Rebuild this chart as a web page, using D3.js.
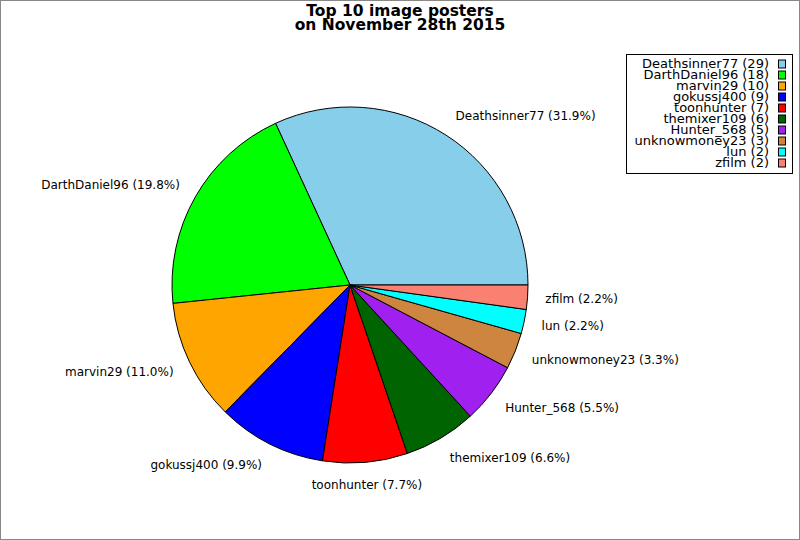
<!DOCTYPE html>
<html>
<head>
<meta charset="utf-8">
<script src="https://cdn.jsdelivr.net/npm/d3@7"></script>
<style>
  body { margin: 0; background: #fff; }
  svg text { font-family: "DejaVu Sans", sans-serif; fill: #000; }
</style>
</head>
<body>
<svg id="chart"></svg>
<script>
  // data
  var posters = ['Deathsinner77', 'DarthDaniel96', 'marvin29', 'gokussj400', 'toonhunter',
                 'themixer109', 'Hunter_568', 'unknowmoney23', 'lun', 'zfilm'];
  var counts = [29, 18, 10, 9, 7, 6, 5, 3, 2, 2];
  var colors = ['#87ceeb', '#00ff00', '#ffa500', '#0000ff', '#ff0000',
                '#006400', '#a020f0', '#cd853f', '#00ffff', '#fa8072'];
  var titleLines = ['Top 10 image posters', 'on November 28th 2015'];

  var width = 800;
  var height = 540;
  var cx = 350, cy = 285, r = 178;

  var total = d3.sum(counts);
  var data = posters.map(function (name, i) {
    return { name: name, count: counts[i], color: colors[i] };
  });

  var svg = d3.select('#chart')
    .attr('width', width)
    .attr('height', height);

  // frame round the whole figure
  svg.append('rect')
    .attr('x', 0.5).attr('y', 0.5)
    .attr('width', width - 1).attr('height', height - 1)
    .attr('fill', '#fff')
    .attr('stroke', '#888');

  // title
  svg.append('text')
    .attr('text-anchor', 'middle')
    .style('font-weight', 'bold')
    .style('font-size', '15.5px')
    .selectAll('tspan').data(titleLines)
    .enter().append('tspan')
      .attr('x', 400)
      .attr('y', function (d, i) { return 16 + i * 13.5; })
      .text(function (d) { return d; });

  // pie, counter-clockwise from 3 o'clock
  var pie = d3.pie()
    .sort(null)
    .value(function (d) { return d.count; })
    .startAngle(Math.PI / 2)
    .endAngle(Math.PI / 2 - 2 * Math.PI);

  var arc = d3.arc().innerRadius(0).outerRadius(r);
  var arcs = pie(data);

  var g = svg.append('g').attr('transform', 'translate(' + cx + ',' + cy + ')');

  g.selectAll('path').data(arcs)
    .enter().append('path')
      .attr('d', arc)
      .attr('fill', function (d) { return d.data.color; })
      .attr('stroke', '#000')
      .attr('stroke-width', 1)
      .attr('stroke-linejoin', 'round');

  function mid (d) { return (d.startAngle + d.endAngle) / 2; }

  // slice labels just outside the rim
  var fmt = d3.format('.1f');
  g.selectAll('text.lbl').data(arcs)
    .enter().append('text')
      .attr('class', 'lbl')
      .style('font-size', '12px')
      .attr('dominant-baseline', 'central')
      .attr('x', function (d) { return 1.1 * r * Math.sin(mid(d)); })
      .attr('y', function (d) { return -1.13 * r * Math.cos(mid(d)); })
      .attr('text-anchor', function (d) {
        var s = Math.sin(mid(d));
        if (Math.abs(s) < 0.15) return 'middle';
        return s > 0 ? 'start' : 'end';
      })
      .text(function (d) { return d.data.name + ' (' + fmt(d.data.count / total * 100) + '%)'; });

  // legend
  var legend = svg.append('g');
  legend.append('rect')
    .attr('x', 626.5).attr('y', 54.5)
    .attr('width', 166).attr('height', 119)
    .attr('fill', '#fff')
    .attr('stroke', '#000');

  var rows = legend.selectAll('g.row').data(data)
    .enter().append('g')
      .attr('class', 'row')
      .attr('transform', function (d, i) { return 'translate(0,' + (63.5 + i * 11) + ')'; });

  rows.append('text')
    .attr('x', 769)
    .attr('text-anchor', 'end')
    .attr('dominant-baseline', 'central')
    .style('font-size', '13px')
    .text(function (d) { return d.name + ' (' + d.count + ')'; });

  rows.append('rect')
    .attr('x', 778.5).attr('y', -3.5)
    .attr('width', 7).attr('height', 8)
    .attr('fill', function (d) { return d.color; })
    .attr('stroke', '#000');
</script>
</body>
</html>
